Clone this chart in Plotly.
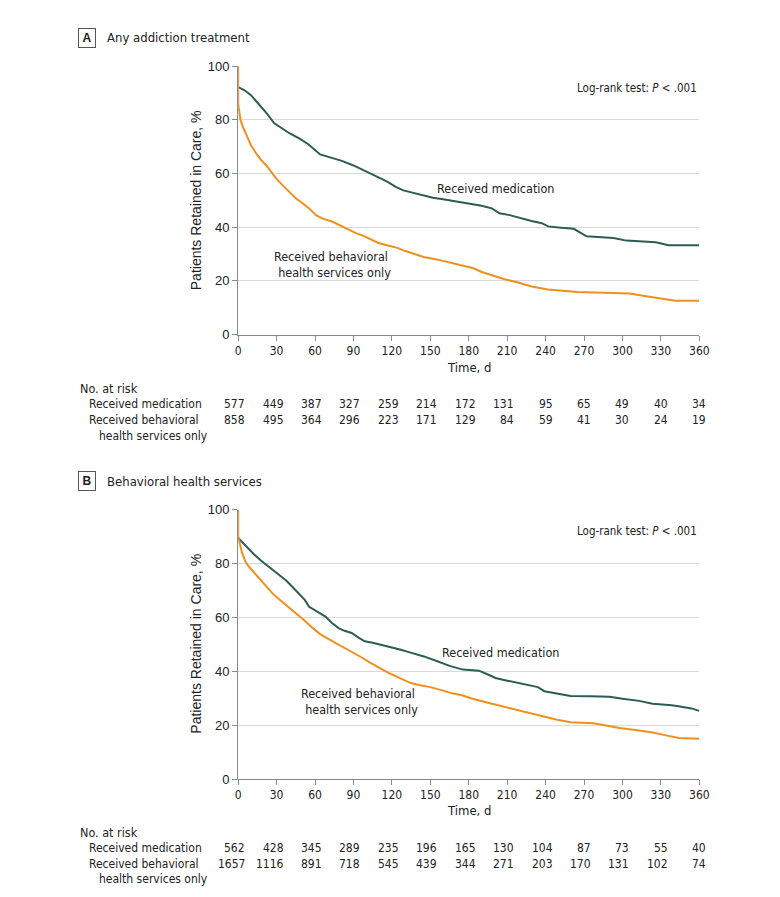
import plotly.graph_objects as go

# Kaplan-Meier curves (day, % retained)
a_med_days = [0, 5, 10, 17, 23, 28, 34, 40, 48, 55, 64, 72, 81, 90, 96, 105, 112, 117, 123, 129,
              137, 145, 152, 160, 170, 176, 183, 190, 198, 204, 212, 221, 229, 237, 242, 252, 262,
              272, 282, 293, 303, 315, 326, 336, 350, 360]
a_med_vals = [92.2, 91.0, 89.2, 85.5, 82.0, 78.8, 77.0, 75.0, 73.0, 70.8, 67.1, 66.0, 64.7, 63.0,
              61.7, 59.8, 58.0, 56.8, 55.0, 53.7, 52.8, 51.9, 51.0, 50.4, 49.6, 49.2, 48.8, 48.0,
              47.0, 45.2, 44.5, 43.3, 42.3, 41.5, 40.3, 39.8, 39.4, 36.6, 36.3, 36.0, 35.0, 34.7,
              34.4, 33.3, 33.3, 33.3]
a_beh_days = [0, 0, 1.8, 4, 6.9, 10, 14.6, 18, 22.2, 26, 29.9, 35, 40, 45.2, 50, 55.4, 60.5, 66,
              73.3, 80, 86, 92, 98.8, 104, 109, 116, 124.3, 130, 134.6, 140, 144.8, 155, 165.2,
              175.4, 183, 190.7, 200, 208.6, 218, 229, 241.8, 252, 264.8, 285, 305.6, 318.4, 331,
              341.4, 360]
a_beh_vals = [100, 86, 80, 77, 73.9, 70.5, 67.1, 65, 62.9, 60.3, 58, 55.5, 53, 50.7, 49, 47, 44.6,
              43.2, 42.1, 40.5, 39.1, 37.8, 36.6, 35.5, 34.2, 33.3, 32.3, 31.2, 30.5, 29.5, 28.9,
              28, 26.9, 25.6, 24.8, 23.2, 21.8, 20.5, 19.5, 17.9, 16.8, 16.5, 15.9, 15.6, 15.3,
              14.3, 13.4, 12.6, 12.6]

b_med_days = [0, 6, 12.3, 18, 25, 31, 37.5, 43, 47.7, 52, 55.4, 61, 68.2, 73, 78.4, 83, 88.6, 94,
              98.8, 105, 112, 119.2, 127, 134.6, 145, 155, 165, 175.4, 188, 195, 200.9, 210, 218.7,
              226, 234, 239, 251.8, 259.5, 275, 290, 300, 313, 323.5, 338.5, 346, 353.8, 360]
b_med_vals = [89.5, 86.5, 83.4, 81, 78.5, 76.3, 73.7, 71, 68.8, 66.5, 63.9, 62.3, 60.3, 58, 56, 55,
              54.2, 52.5, 51.1, 50.6, 49.8, 48.9, 48, 46.9, 45.5, 43.8, 42, 40.6, 40.2, 38.8, 37.5,
              36.5, 35.6, 34.9, 34.1, 32.6, 31.4, 30.8, 30.7, 30.5, 29.8, 29, 27.9, 27.4, 26.8,
              26.2, 25.3]
b_beh_days = [0, 0, 3, 6, 9, 12.3, 17, 22.5, 27, 32.7, 39, 45.5, 52, 58.3, 64, 71, 77, 83.8, 90,
              96.5, 103, 109.3, 117, 124.6, 130, 134.8, 142, 150, 160, 168, 175.4, 183, 195, 206,
              218, 229, 239, 249, 259.5, 268, 277.4, 288, 297.8, 310, 323.5, 334, 344, 360]
b_beh_vals = [100, 90, 84, 80.4, 78.5, 76.7, 74, 71.2, 68.8, 66.4, 64, 61.5, 58.7, 56, 53.8, 51.8,
              50.2, 48.7, 46.8, 45.1, 43.2, 41.4, 39.5, 37.8, 36.6, 35.6, 34.8, 34.1, 32.8, 31.7,
              31, 29.8, 28.3, 27, 25.6, 24.2, 23.1, 22, 21.1, 20.9, 20.7, 19.8, 18.9, 18.2, 17.3,
              16.2, 15.2, 14.9]

# numbers at risk
risk_days = [0, 30, 60, 90, 120, 150, 180, 210, 240, 270, 300, 330, 360]
a_risk_med = [577, 449, 387, 327, 259, 214, 172, 131, 95, 65, 49, 40, 34]
a_risk_beh = [858, 495, 364, 296, 223, 171, 129, 84, 59, 41, 30, 24, 19]
b_risk_med = [562, 428, 345, 289, 235, 196, 165, 130, 104, 87, 73, 55, 40]
b_risk_beh = [1657, 1116, 891, 718, 545, 439, 344, 271, 203, 170, 131, 102, 74]

GREEN = "#2e5c55"
ORANGE = "#f0901c"
NARROW = "DejaVu Sans Condensed, Liberation Sans Narrow, Arial Narrow, sans-serif"
REG = "Liberation Sans, Arial, sans-serif"
INK = "#222"
W, H = 780, 897


def px(p):
    return p / W


def py(p):
    return 1 - p / H


fig = go.Figure()
fig.add_trace(go.Scatter(x=a_med_days, y=a_med_vals, mode="lines", line=dict(color=GREEN, width=2),
                         xaxis="x", yaxis="y"))
fig.add_trace(go.Scatter(x=a_beh_days, y=a_beh_vals, mode="lines", line=dict(color=ORANGE, width=2),
                         xaxis="x", yaxis="y"))
fig.add_trace(go.Scatter(x=b_med_days, y=b_med_vals, mode="lines", line=dict(color=GREEN, width=2),
                         xaxis="x2", yaxis="y2"))
fig.add_trace(go.Scatter(x=b_beh_days, y=b_beh_vals, mode="lines", line=dict(color=ORANGE, width=2),
                         xaxis="x2", yaxis="y2"))

xax = dict(range=[0, 360], tickvals=risk_days, showgrid=False, zeroline=False,
           showline=True, linecolor="#8a8a8a", linewidth=1, ticks="outside", ticklen=5,
           tickcolor="#8a8a8a", tickfont=dict(family=NARROW, size=12, color=INK),
           domain=[px(231), px(700)])
yax = dict(range=[0, 100], tickvals=[0, 20, 40, 60, 80, 100], showgrid=True, gridcolor="#d9d9d9",
           zeroline=False, showline=True, linecolor="#8a8a8a", linewidth=1, ticks="outside",
           ticklen=5, tickcolor="#8a8a8a", tickfont=dict(family=REG, size=13, color=INK))

fig.update_layout(
    width=W, height=H, margin=dict(l=0, r=0, t=0, b=0),
    plot_bgcolor="white", paper_bgcolor="white", showlegend=False,
    xaxis=dict(xax, anchor="y"),
    yaxis=dict(yax, anchor="x", domain=[py(325), py(52)]),
    xaxis2=dict(xax, anchor="y2"),
    yaxis2=dict(yax, anchor="x2", domain=[py(777), py(503)]),
)

ann = []


def txt(x, y, s, size=12, anchor="left", family=NARROW, **kw):
    ann.append(dict(x=x, y=y, xref="paper", yref="paper", text=s, showarrow=False,
                    xanchor=anchor, yanchor="middle", font=dict(family=family, size=size, color=INK),
                    **kw))


panels = [
    ("A", "Any addiction treatment", 0, "x", "y", a_risk_med, a_risk_beh,
     (200.7, 54.3), (72.8, 26.0)),
    ("B", "Behavioral health services", 451, "x2", "y2", b_risk_med, b_risk_beh,
     (204.5, 46.9), (93.6, 28.7)),
]
for letter, title, off, xr, yr, rmed, rbeh, med_pos, beh_pos in panels:
    # panel label box + title
    ann.append(dict(x=px(77.5), y=py(23 + off), xref="paper", yref="paper", text="<b>%s</b>" % letter,
                    showarrow=False, xanchor="center", yanchor="middle",
                    font=dict(family=REG, size=12, color=INK),
                    bordercolor="#555", borderwidth=1, borderpad=2, width=12, height=14))
    txt(px(96), py(23 + off), title, size=13)
    # y title
    txt(px(188), py(188.5 + off), "Patients Retained in Care, %", size=14, anchor="center",
        family=REG, textangle=-90)
    # x title
    txt(px(465.5), py(358 + off), "Time, d", size=13, anchor="center")
    # curve labels
    ann.append(dict(x=med_pos[0], y=med_pos[1], xref=xr, yref=yr, text="Received medication",
                    showarrow=False, xanchor="center", yanchor="middle",
                    font=dict(family=NARROW, size=12.5, color=INK)))
    ann.append(dict(x=beh_pos[0], y=beh_pos[1], xref=xr, yref=yr,
                    text="Received behavioral<br>  health services only", align="center",
                    showarrow=False, xanchor="center", yanchor="middle",
                    font=dict(family=NARROW, size=12.5, color=INK)))
    ann.append(dict(x=360, y=92, xref=xr, yref=yr, text="Log-rank test: <i>P</i> &lt; .001",
                    showarrow=False, xanchor="right", yanchor="middle",
                    font=dict(family=NARROW, size=11.5, color=INK)))
    # number at risk table
    txt(px(68), py(380 + off), "No. at risk", size=12.5)
    txt(px(77), py(396 + off), "Received medication", size=12)
    txt(px(77), py(412 + off), "Received behavioral", size=12)
    txt(px(87), py(428 + off), "health services only", size=12)
    for d, m, b in zip(risk_days, rmed, rbeh):
        for val, yy in ((m, 396), (b, 412)):
            ann.append(dict(x=d, y=py(yy + off), xref=xr, yref="paper", text=str(val),
                            showarrow=False, xanchor="right", yanchor="middle", xshift=9,
                            font=dict(family=NARROW, size=12, color=INK)))

fig.update_layout(annotations=ann)
fig.write_html("out.html")
